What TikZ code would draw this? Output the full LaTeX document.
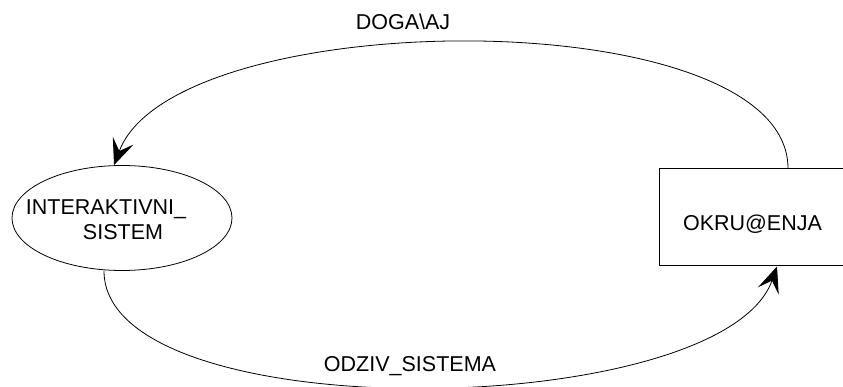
\documentclass[tikz,border=0pt]{standalone}
\usepackage{fontspec}
\setmainfont{Liberation Sans}
\usetikzlibrary{shapes.geometric,arrows.meta}

\tikzset{
  lbl/.style={font=\fontsize{21.5}{25}\selectfont, inner sep=0pt},
  flow/.style={line width=0.8pt, -{Stealth[length=26pt, width=22pt, inset=11pt]}},
}

\begin{document}
\begin{tikzpicture}[x=1pt, y=-1pt]
   \useasboundingbox (0,0) rectangle (843,387);
   \clip (0,0) rectangle (843,387);
   \node[draw, ellipse, line width=0.8pt, minimum width=220pt, minimum height=105pt] (sys) at (122,218) {};
   \node[lbl, align=left] (sysname) at ([xshift=-16pt, yshift=-2pt]sys.center) {INTERAKTIVNI\_\\\hspace*{57pt}SISTEM};
   \node[draw, rectangle, line width=1pt, minimum width=200pt, minimum height=97pt] (env) at (759,217.5) {};
   \node[lbl] (envname) at ([xshift=-6.5pt, yshift=-7pt]env.center) {OKRU@ENJA};
   \draw[flow] ([xshift=29pt]env.north) .. controls +(0,-169) and +(61,-162) .. ([xshift=-8pt]sys.north);
   \draw[flow] ([xshift=-18pt]sys.south) .. controls +(0,160) and +(-55,155) .. ([xshift=18pt]env.south);
   \node[lbl] (event) at (403,22) {DOGA\textbackslash AJ};
   \node[lbl] (reply) at (410,366) {ODZIV\_SISTEMA};
\end{tikzpicture}
\end{document}
